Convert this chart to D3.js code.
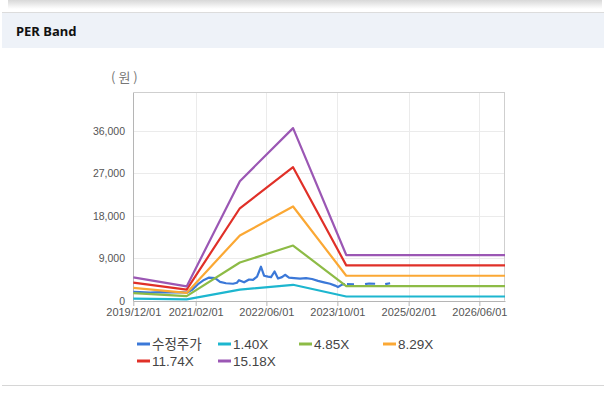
<!DOCTYPE html>
<html>
<head>
<meta charset="utf-8">
<script src="https://cdn.jsdelivr.net/npm/d3@7/dist/d3.min.js"></script>
<style>
  body { margin: 0; background: #fff; }
  svg text { font-family: "Liberation Sans", Arial, "Noto Sans CJK KR", sans-serif; }
</style>
</head>
<body>
<svg id="chart" width="612" height="395"></svg>
<script>
// x axis tick labels and y ticks
const tickDates = ["2019/12/01", "2021/02/01", "2022/06/01", "2023/10/01", "2025/02/01", "2026/06/01"];
const yTicks = [0, 9000, 18000, 27000, 36000];

// PER band lines (values at the yearly turning points)
const bandDates = ["2019-12-01", "2020-12-01", "2021-12-01", "2022-12-01", "2023-12-01", "2026-11-24"];
const band140 = [458, 280, 2338, 3375, 893, 893];
const band485 = [1586, 970, 8100, 11693, 3094, 3094];
const band829 = [2711, 1658, 13844, 19987, 5289, 5289];
const band1174 = [3839, 2348, 19606, 28305, 7490, 7490];
const band1518 = [4964, 3036, 25351, 36599, 9685, 9685];

// adjusted price (null = no data)
const priceDates = [
  "2019-12-01", "2020-01-16", "2020-03-25", "2020-06-01", "2020-08-09", "2020-10-16", "2020-12-03",
  "2021-01-07", "2021-02-17", "2021-03-30", "2021-05-04", "2021-06-14", "2021-07-18", "2021-08-28",
  "2021-10-15", "2021-11-11", "2021-11-25", "2021-12-30", "2022-02-02", "2022-03-01", "2022-03-29",
  "2022-04-25", "2022-05-16", "2022-06-12", "2022-07-03", "2022-07-27", "2022-08-20", "2022-09-16",
  "2022-10-07", "2022-11-03", "2022-12-08", "2023-01-18", "2023-02-28", "2023-04-10", "2023-05-21",
  "2023-07-01", "2023-08-12", "2023-09-15", "2023-10-05", "2023-11-02", "2023-11-22", "2023-11-29",
  "2023-12-06", "2024-01-23", "2024-02-20", "2024-04-08", "2024-05-06", "2024-06-16", "2024-07-20",
  "2024-08-24", "2024-09-27"
];
const priceValues = [
  1900, 1850, 1700, 1800, 1750, 1800, 1700,
  2300, 3500, 4400, 4900, 4800, 4000, 3700,
  3600, 3800, 4350, 3900, 4500, 4400, 5100,
  7200, 5300, 5100, 5000, 6200, 4700, 5000,
  5500, 4900, 4800, 4700, 4800, 4600, 4200,
  3900, 3600, 3200, 2900, 3400, 3500, null,
  3500, 3450, null, 3500, 3650, 3600, null,
  3500, 3700
];

const seriesNames = ["수정주가", "1.40X", "4.85X", "8.29X", "11.74X", "15.18X"];
const seriesColors = ["#3b78d8", "#1db6cf", "#8dbb46", "#fba834", "#e03028", "#9b57b4"];

const parse = d3.timeParse("%Y-%m-%d");
const parseTick = d3.timeParse("%Y/%m/%d");

const svg = d3.select("#chart");

// shadow of the card above
const defs = svg.append("defs");
const grad = defs.append("linearGradient").attr("id", "shade").attr("x1", 0).attr("y1", 0).attr("x2", 0).attr("y2", 1);
grad.append("stop").attr("offset", "0%").attr("stop-color", "#d8d8d8");
grad.append("stop").attr("offset", "100%").attr("stop-color", "#ffffff");
svg.append("rect").attr("x", 8).attr("y", 0).attr("width", 594).attr("height", 9).attr("fill", "url(#shade)");

// header
svg.append("rect").attr("x", 2).attr("y", 12).attr("width", 602).attr("height", 36).attr("fill", "#eef2f8");
svg.append("line").attr("x1", 2).attr("x2", 604).attr("y1", 12.5).attr("y2", 12.5).attr("stroke", "#dcdcdc");
svg.append("text").attr("x", 16).attr("y", 36)
  .style("font-family", "'Noto Sans', sans-serif")
  .style("font-weight", "bold").style("font-size", "13px").attr("fill", "#111")
  .text("PER Band");

// bottom rule
svg.append("line").attr("x1", 2).attr("x2", 604).attr("y1", 385.5).attr("y2", 385.5).attr("stroke", "#d6d6d6");

const x = d3.scaleTime()
  .domain([parse("2019-12-01"), parse("2026-11-24")])
  .range([133.3, 505]);
const y = d3.scaleLinear().domain([0, 44200]).range([300.7, 92.3]);

const g = svg.append("g");

// grid
g.selectAll(".hgrid").data(yTicks.slice(1)).enter().append("line")
  .attr("x1", x.range()[0]).attr("x2", x.range()[1])
  .attr("y1", d => Math.round(y(d)) + 0.5).attr("y2", d => Math.round(y(d)) + 0.5)
  .attr("stroke", "#ebebeb");
g.selectAll(".vgrid").data(tickDates.slice(1)).enter().append("line")
  .attr("x1", d => Math.round(x(parseTick(d))) + 0.5).attr("x2", d => Math.round(x(parseTick(d))) + 0.5)
  .attr("y1", y.range()[1]).attr("y2", y.range()[0])
  .attr("stroke", "#ebebeb");

// frame
g.append("line").attr("x1", x.range()[0]).attr("x2", x.range()[1])
  .attr("y1", 92.5).attr("y2", 92.5).attr("stroke", "#cfcfcf");
g.append("line").attr("x1", 504.5).attr("x2", 504.5)
  .attr("y1", y.range()[1]).attr("y2", y.range()[0]).attr("stroke", "#cfcfcf");

// axes
const xAxis = d3.axisBottom(x)
  .tickValues(tickDates.map(d => parseTick(d)))
  .tickFormat(d3.timeFormat("%Y/%m/%d"))
  .tickSize(5).tickSizeOuter(0);
const xa = g.append("g").attr("transform", "translate(0,301)").call(xAxis);
xa.select(".domain").attr("stroke", "#b5b5b5");
xa.selectAll(".tick line").attr("stroke", "#b5b5b5");
xa.selectAll("text").attr("fill", "#555").style("font-size", "11px").attr("dy", "0.6em");

const yAxis = d3.axisLeft(y).tickValues(yTicks).tickFormat(d3.format(",")).tickSize(0).tickPadding(8);
const ya = g.append("g").attr("transform", "translate(133,0)").call(yAxis);
ya.select(".domain").attr("stroke", "#b5b5b5");
ya.selectAll("text").attr("fill", "#555").style("font-size", "10.5px");

svg.append("text").attr("x", 111).attr("y", 82).attr("fill", "#777")
  .style("font-size", "13px").style("letter-spacing", "3px")
  .style("font-family", "'Noto Sans CJK KR', sans-serif")
  .text("(원)");

// lines
const line = d3.line()
  .defined(d => d.v != null)
  .x(d => x(d.date))
  .y(d => y(d.v));

const bands = [band140, band485, band829, band1174, band1518];
const allSeries = [priceValues.map((v, i) => ({ date: parse(priceDates[i]), v: v }))]
  .concat(bands.map(b => b.map((v, i) => ({ date: parse(bandDates[i]), v: v }))));

g.selectAll(".series").data(allSeries).enter().append("path")
  .attr("d", line)
  .attr("fill", "none")
  .attr("stroke", (d, i) => seriesColors[i])
  .attr("stroke-width", 2.2)
  .attr("stroke-linejoin", "round");

// legend
const legendPos = [[137, 344], [218, 344], [299, 344], [383, 344], [137, 361], [218, 361]];
const leg = svg.selectAll(".leg").data(seriesNames).enter().append("g")
  .attr("transform", (d, i) => "translate(" + legendPos[i][0] + "," + legendPos[i][1] + ")");
leg.append("line").attr("x1", 0).attr("x2", 13).attr("y1", 0).attr("y2", 0)
  .attr("stroke", (d, i) => seriesColors[i]).attr("stroke-width", 3);
leg.append("text").attr("x", 15).attr("y", 0).attr("dy", "0.36em")
  .attr("fill", "#444").style("font-size", "13.5px")
  .text(d => d);
</script>
</body>
</html>
